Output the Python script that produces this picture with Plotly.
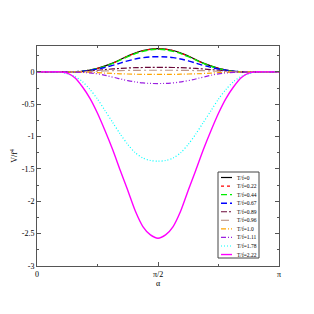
import numpy as np
import plotly.graph_objects as go

# alpha in units of pi
alpha_coarse = [0, 0.0625, 0.125, 0.1875, 0.25, 0.3125, 0.375, 0.4375, 0.5,
                0.5625, 0.625, 0.6875, 0.75, 0.8125, 0.875, 0.9375, 1.0]
alpha_fine = [0, 0.03125, 0.0625, 0.09375, 0.125, 0.15625, 0.1875, 0.21875, 0.25,
              0.28125, 0.3125, 0.34375, 0.375, 0.40625, 0.4375, 0.46875, 0.5,
              0.53125, 0.5625, 0.59375, 0.625, 0.65625, 0.6875, 0.71875, 0.75,
              0.78125, 0.8125, 0.84375, 0.875, 0.90625, 0.9375, 0.96875, 1.0]

labels = ["T/f=0", "T/f=0.22", "T/f=0.44", "T/f=0.67", "T/f=0.89",
          "T/f=0.96", "T/f=1.0", "T/f=1.11", "T/f=1.78", "T/f=2.22"]

v_0    = [0, 0, 0, 0.01, 0.055, 0.135, 0.245, 0.33, 0.36, 0.33, 0.245, 0.135, 0.055, 0.01, 0, 0, 0]
v_022  = [0, 0, 0, 0.01, 0.054, 0.133, 0.242, 0.327, 0.357, 0.327, 0.242, 0.133, 0.054, 0.01, 0, 0, 0]
v_044  = [0, 0, 0, 0.01, 0.053, 0.13, 0.235, 0.318, 0.35, 0.318, 0.235, 0.13, 0.053, 0.01, 0, 0, 0]
v_067  = [0, 0, 0, 0.01, 0.045, 0.1, 0.17, 0.22, 0.235, 0.22, 0.17, 0.1, 0.045, 0.01, 0, 0, 0]
v_089  = [0, 0, 0, 0.005, 0.025, 0.045, 0.06, 0.068, 0.07, 0.068, 0.06, 0.045, 0.025, 0.005, 0, 0, 0]
v_096  = [0, 0, 0, 0.002, 0.01, 0.018, 0.022, 0.025, 0.025, 0.025, 0.022, 0.018, 0.01, 0.002, 0, 0, 0]
v_100  = [0, 0, 0, -0.003, -0.012, -0.025, -0.033, -0.038, -0.04, -0.038, -0.033, -0.025, -0.012, -0.003, 0, 0, 0]
v_111  = [0, 0, 0, -0.008, -0.03, -0.08, -0.135, -0.17, -0.18, -0.17, -0.135, -0.08, -0.03, -0.008, 0, 0, 0]
v_178  = [0, 0, 0, 0, -0.03, -0.07, -0.15, -0.27, -0.42, -0.6, -0.78, -0.96, -1.12, -1.25, -1.33, -1.37, -1.38,
          -1.37, -1.33, -1.25, -1.12, -0.96, -0.78, -0.6, -0.42, -0.27, -0.15, -0.07, -0.03, 0, 0, 0, 0]
v_222  = [0, 0, 0, 0, -0.02, -0.09, -0.23, -0.41, -0.64, -0.91, -1.2, -1.52, -1.83, -2.15, -2.39, -2.52, -2.57,
          -2.52, -2.39, -2.15, -1.83, -1.52, -1.2, -0.91, -0.64, -0.41, -0.23, -0.09, -0.02, 0, 0, 0, 0]

series = [v_0, v_022, v_044, v_067, v_089, v_096, v_100, v_111, v_178, v_222]

colors = ["#000000", "#ff0000", "#00ee00", "#0000ff", "#6b0a3a",
          "#c09a8a", "#ffa500", "#9a20e0", "#00ffff", "#ff00ff"]
dashes = ["solid", "dot", "6px,3px", "6px,3px", "6px,2px,2px,2px",
          "8px,3px,2px,3px", "5px,2px,1px,2px", "5px,2px,1px,2px,1px,2px", "1px,2px", "solid"]
widths = [1.2, 1.2, 1.4, 1.4, 1.2, 1.2, 1.2, 1.2, 1.2, 1.4]

fig = go.Figure()
for v, lab, c, d, w in zip(series, labels, colors, dashes, widths):
    a = alpha_fine if len(v) == len(alpha_fine) else alpha_coarse
    x = [np.pi * t for t in a]
    sm = 0.8 if len(v) == len(alpha_fine) else 1.1
    fig.add_trace(go.Scatter(x=x, y=v, mode="lines", name=lab,
                             line=dict(color=c, dash=d, width=w, shape="spline", smoothing=sm),
                             showlegend=False))

# page offset (browser body margin)
OFF = 8
# target plot-area edges in the screenshot
L, R, T, B = 37, 279, 46, 266
W, H = R - L, B - T
def px(xp): return (xp - L) / W
def py(yp): return (B - yp) / H

shapes = [dict(type="rect", xref="paper", yref="paper",
               x0=px(218), x1=px(259), y0=py(258), y1=py(172),
               line=dict(color="#444", width=1), fillcolor="white", layer="above")]
annotations = []
for i, (lab, c, d, w) in enumerate(zip(labels, colors, dashes, widths)):
    yy = 177.5 + i * 8.56
    shapes.append(dict(type="line", xref="paper", yref="paper",
                       x0=px(221), x1=px(232), y0=py(yy), y1=py(yy),
                       line=dict(color=c, dash=d, width=w), layer="above"))
    annotations.append(dict(xref="paper", yref="paper", x=px(235), y=py(yy),
                            text=lab, showarrow=False, xanchor="left", yanchor="middle",
                            font=dict(size=5.5, color="black", family="Liberation Serif")))

axis_common = dict(showgrid=False, zeroline=False, showline=True, mirror="allticks",
                   linecolor="#555", linewidth=1, ticks="inside", ticklen=4,
                   tickcolor="#555", tickwidth=1, automargin=False,
                   tickfont=dict(size=8, family="Liberation Serif", color="black"))

fig.update_layout(
    width=314, height=314,
    margin=dict(l=L - OFF, r=314 - R + OFF, t=T - OFF, b=314 - B + OFF),
    paper_bgcolor="white", plot_bgcolor="white",
    shapes=shapes, annotations=annotations,
    xaxis=dict(range=[0, np.pi], tickvals=[0, np.pi / 2, np.pi], ticktext=["0", "π/2", "π"],
               minor=dict(tickvals=[np.pi / 4, 3 * np.pi / 4], ticks="inside", ticklen=2, tickcolor="#555"),
               title=dict(text="α", font=dict(size=8, family="Liberation Serif", color="black"), standoff=0),
               **axis_common),
    yaxis=dict(range=[-3, 0.4], tickvals=[0, -0.5, -1, -1.5, -2, -2.5, -3],
               ticktext=["0", "-0.5", "-1", "-1.5", "-2", "-2.5", "-3"],
               minor=dict(dtick=0.25, ticks="inside", ticklen=2, tickcolor="#555"),
               title=dict(text="V/f<sup>4</sup>", font=dict(size=8, family="Liberation Serif", color="black"), standoff=2),
               **axis_common),
)

fig.write_html("out.html")
